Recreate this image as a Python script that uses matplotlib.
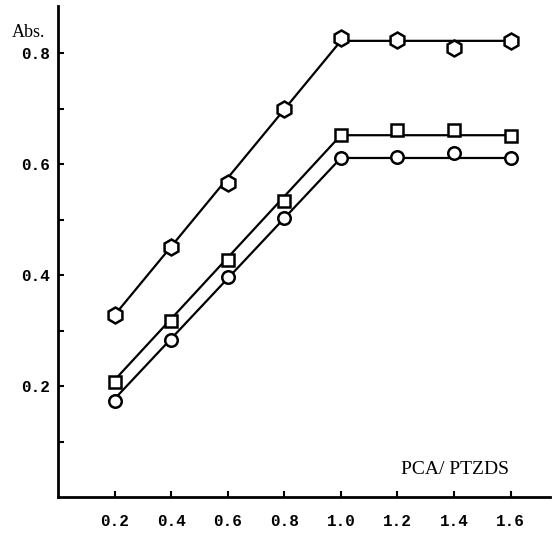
import matplotlib.pyplot as plt
import numpy as np

# ratio PCA/PTZDS
x = [0.2, 0.4, 0.6, 0.8, 1.0, 1.2, 1.4, 1.6]

# absorbance of the three series
abs_hex = [0.328, 0.450, 0.566, 0.700, 0.828, 0.824, 0.810, 0.822]
abs_sq = [0.208, 0.317, 0.427, 0.534, 0.652, 0.661, 0.661, 0.650]
abs_circ = [0.174, 0.283, 0.396, 0.503, 0.611, 0.613, 0.620, 0.611]

# drawn fit lines (knots)
fit_x = [0.2, 1.0, 1.6]
fit_hex = [0.328, 0.822, 0.822]
fit_sq = [0.211, 0.652, 0.652]
fit_circ = [0.177, 0.611, 0.611]

xticks = [0.2, 0.4, 0.6, 0.8, 1.0, 1.2, 1.4, 1.6]
yticks = [0.2, 0.4, 0.6, 0.8]
yminor = [0.1, 0.3, 0.5, 0.7]

plt.rcParams['font.family'] = ['Liberation Serif', 'DejaVu Serif']

fig = plt.figure(figsize=(5.58, 5.34), dpi=100)
ax = fig.add_axes([0.104, 0.069, 0.882, 0.920])

for fy in (fit_hex, fit_sq, fit_circ):
	ax.plot(fit_x, fy, color='black', lw=1.6, zorder=2)

ax.plot(x, abs_hex, ls='none', marker='h', ms=11.5, mfc='white', mec='black', mew=1.8, zorder=3)
ax.plot(x, abs_sq, ls='none', marker='s', ms=9, mfc='white', mec='black', mew=1.8, zorder=3)
ax.plot(x, abs_circ, ls='none', marker='o', ms=9, mfc='white', mec='black', mew=1.8, zorder=3)

ax.set_xlim(0, 1.74)
ax.set_ylim(0, 0.885)
ax.set_xticks(xticks)
ax.set_xticklabels(['%.1f' % v for v in xticks])
ax.set_yticks(yticks)
ax.set_yticklabels(['%.1f' % v for v in yticks])
ax.set_yticks(yminor, minor=True)

ax.tick_params(direction='in', length=4, width=1.5)
ax.tick_params(axis='y', which='minor', direction='in', length=4, width=1.5)
ax.tick_params(axis='x', pad=12)
ax.tick_params(axis='y', pad=6)
for lab in ax.get_xticklabels() + ax.get_yticklabels():
	lab.set_family(['Liberation Mono', 'DejaVu Sans Mono'])
	lab.set_fontsize(11.5)
	lab.set_fontweight('bold')

for s in ('top', 'right'):
	ax.spines[s].set_visible(False)
for s in ('left', 'bottom'):
	ax.spines[s].set_linewidth(2)

fig.text(0.021, 0.94, 'Abs.', fontsize=13, ha='left', va='center')
ax.text(1.593, 0.05, 'PCA/ PTZDS', fontsize=14, ha='right', va='center')

fig.savefig('out.png', dpi=100)
